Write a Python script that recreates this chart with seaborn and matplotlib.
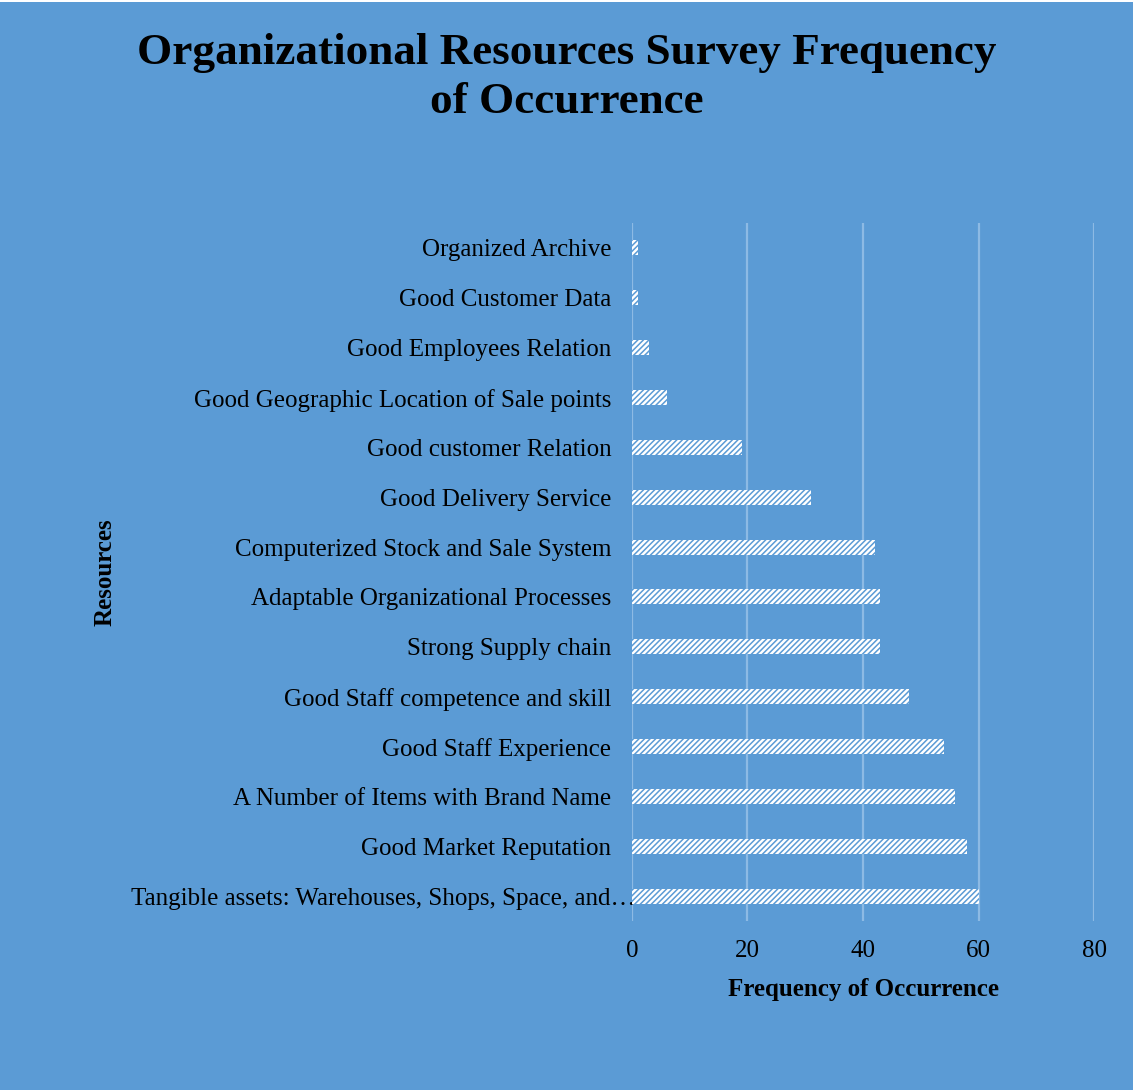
import matplotlib
matplotlib.use("Agg")
import matplotlib.pyplot as plt
from matplotlib.patches import Rectangle
from matplotlib.transforms import ScaledTranslation
import seaborn as sns
import pandas as pd

resources = [
    "Organized Archive",
    "Good Customer Data",
    "Good Employees Relation",
    "Good Geographic Location of Sale points",
    "Good customer Relation",
    "Good Delivery Service",
    "Computerized Stock and Sale System",
    "Adaptable Organizational Processes",
    "Strong Supply chain",
    "Good Staff competence and skill",
    "Good Staff Experience",
    "A Number of Items with Brand Name",
    "Good Market Reputation",
    "Tangible assets: Warehouses, Shops, Space, and\u2026",
]
frequency = [1, 1, 3, 6, 19, 31, 42, 43, 43, 48, 54, 56, 58, 60]
x_ticks = [0, 20, 40, 60, 80]

BG = "#5B9BD5"
GRID = "#8DBAE4"

sns.set_theme(style="white")
plt.rcParams["font.family"] = ["Liberation Serif", "DejaVu Serif"]
plt.rcParams["hatch.linewidth"] = 1.1
plt.rcParams["text.color"] = "black"
plt.rcParams["axes.labelcolor"] = "black"

df = pd.DataFrame({"Resources": resources, "Frequency": frequency})

fig = plt.figure(figsize=(11.33, 10.9), dpi=100, facecolor=BG)
ax = fig.add_axes([0.5578, 0.155, 0.4078, 0.6404])
ax.set_facecolor(BG)

sns.barplot(data=df, x="Frequency", y="Resources", order=resources,
            orient="h", color="white", width=0.3, ax=ax,
            edgecolor=BG, linewidth=0, hatch="//////", zorder=3)

ax.set_xlim(0, 80)
ax.set_xticks(x_ticks)
ax.xaxis.grid(True, color=GRID, linewidth=1.6, zorder=0)
ax.yaxis.grid(False)
for s in ax.spines.values():
    s.set_visible(False)
ax.tick_params(axis="both", length=0, labelsize=18, colors="black")
ax.tick_params(axis="y", pad=15)
ax.tick_params(axis="x", pad=14)

# the truncated long label runs its ellipsis up to the bar edge
long_label = ax.get_yticklabels()[-1]
long_label.set_transform(long_label.get_transform() +
                         ScaledTranslation(0.24, 0, fig.dpi_scale_trans))

ax.set_xlabel("Frequency of Occurrence", fontsize=18, fontweight="bold",
              labelpad=11, color="black")
ax.set_ylabel("")
fig.text(0.093, 0.475, "Resources", rotation=90, fontsize=18,
         fontweight="bold", ha="center", va="center", color="black")

fig.suptitle("Organizational Resources Survey Frequency\nof Occurrence",
             x=0.5, y=0.97, fontsize=32.5, fontweight="bold",
             linespacing=1.3, va="top", color="black")

fig.add_artist(Rectangle((0, 0.998), 1, 0.002, transform=fig.transFigure,
                         facecolor="white", edgecolor="none"))

fig.savefig("out.png", dpi=100, facecolor=BG)
